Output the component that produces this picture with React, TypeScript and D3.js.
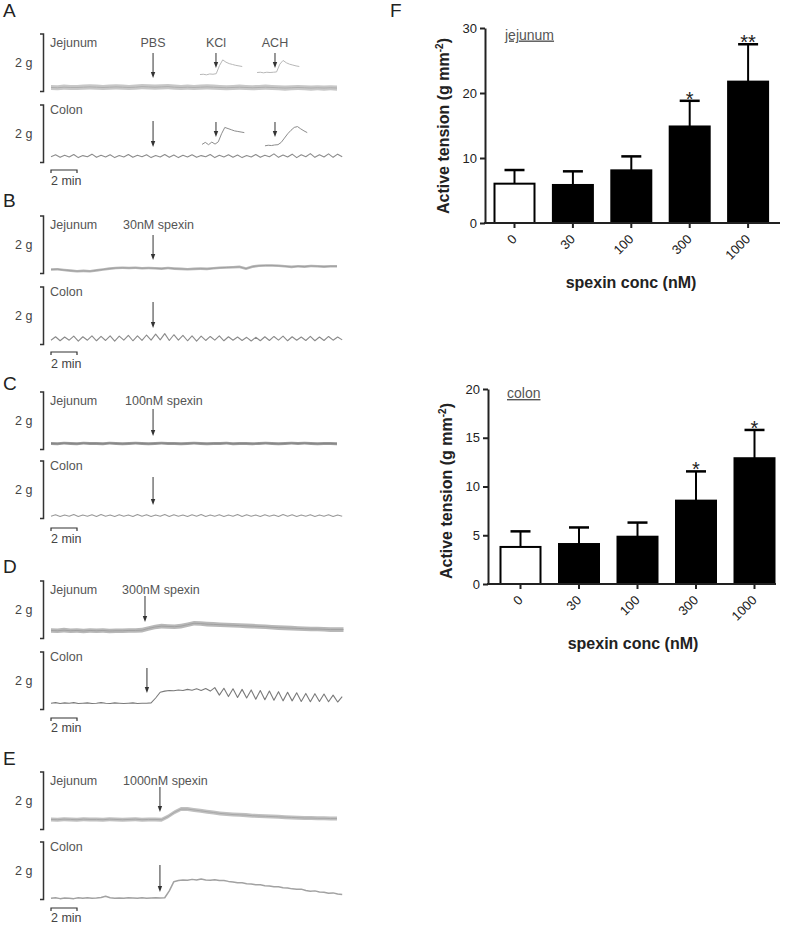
import * as d3 from 'd3';
import { useEffect, useRef } from 'react';

// panel F: active tension (g mm-2), mean and SEM per spexin concentration
const concLabels = ['0', '30', '100', '300', '1000'];
const jejunumMean = [6.05, 5.85, 8.1, 14.85, 21.75];
const jejunumSem = [2.1, 2.1, 2.15, 3.95, 5.75];
const jejunumStars = ['', '', '', '*', '**'];
const colonMean = [3.8, 4.1, 4.85, 8.55, 12.9];
const colonSem = [1.6, 1.7, 1.45, 3.0, 2.9];
const colonStars = ['', '', '', '*', '*'];

// panels A-E: tension traces in g. jejunum sampled every 0.5 min, colon every 0.35 min
const jejA = [0.14, 0.13, 0.15, 0.14, 0.14, 0.15, 0.16, 0.15, 0.14, 0.15, 0.16, 0.15, 0.14, 0.15, 0.17, 0.16, 0.15, 0.16, 0.17, 0.15, 0.14, 0.15, 0.14, 0.15, 0.16, 0.15, 0.14, 0.13, 0.14, 0.15, 0.14, 0.13, 0.14, 0.15, 0.14, 0.13, 0.12, 0.13, 0.14, 0.13, 0.12, 0.13, 0.12, 0.13, 0.12];
const jejB = [0.14, 0.15, 0.12, 0.1, 0.08, 0.09, 0.08, 0.11, 0.14, 0.17, 0.19, 0.2, 0.19, 0.2, 0.18, 0.19, 0.18, 0.17, 0.19, 0.17, 0.16, 0.15, 0.16, 0.17, 0.16, 0.18, 0.2, 0.21, 0.22, 0.23, 0.17, 0.24, 0.27, 0.28, 0.28, 0.27, 0.25, 0.23, 0.25, 0.24, 0.26, 0.25, 0.24, 0.25, 0.25];
const jejC = [0.21, 0.2, 0.22, 0.21, 0.2, 0.22, 0.21, 0.21, 0.2, 0.22, 0.21, 0.2, 0.21, 0.22, 0.21, 0.2, 0.21, 0.22, 0.21, 0.21, 0.2, 0.21, 0.22, 0.21, 0.2, 0.21, 0.21, 0.22, 0.2, 0.21, 0.21, 0.2, 0.21, 0.22, 0.21, 0.2, 0.21, 0.22, 0.21, 0.22, 0.21, 0.2, 0.21, 0.21, 0.2];
const jejD = [0.28, 0.27, 0.29, 0.27, 0.28, 0.26, 0.28, 0.27, 0.28, 0.26, 0.27, 0.27, 0.28, 0.28, 0.29, 0.35, 0.4, 0.43, 0.42, 0.41, 0.43, 0.48, 0.53, 0.52, 0.5, 0.49, 0.48, 0.47, 0.46, 0.45, 0.44, 0.43, 0.42, 0.41, 0.39, 0.38, 0.37, 0.36, 0.35, 0.34, 0.33, 0.33, 0.32, 0.31, 0.31, 0.31];
const jejE = [0.35, 0.34, 0.36, 0.35, 0.34, 0.36, 0.35, 0.35, 0.34, 0.36, 0.35, 0.34, 0.35, 0.36, 0.34, 0.35, 0.35, 0.34, 0.45, 0.6, 0.71, 0.71, 0.68, 0.65, 0.62, 0.59, 0.56, 0.54, 0.52, 0.51, 0.5, 0.48, 0.47, 0.46, 0.45, 0.44, 0.43, 0.42, 0.41, 0.4, 0.4, 0.39, 0.39, 0.38, 0.38];

const colA = [0.2, 0.27, 0.18, 0.25, 0.19, 0.28, 0.17, 0.24, 0.2, 0.29, 0.18, 0.25, 0.19, 0.27, 0.17, 0.24, 0.19, 0.28, 0.18, 0.25, 0.2, 0.27, 0.17, 0.24, 0.19, 0.28, 0.18, 0.26, 0.17, 0.25, 0.19, 0.27, 0.18, 0.24, 0.2, 0.28, 0.17, 0.25, 0.19, 0.27, 0.18, 0.26, 0.17, 0.24, 0.19, 0.28, 0.18, 0.25, 0.2, 0.3, 0.18, 0.26, 0.19, 0.29, 0.17, 0.27, 0.2, 0.31, 0.18, 0.27, 0.19, 0.3, 0.18, 0.29, 0.2];
const colB = [0.15, 0.27, 0.13, 0.26, 0.15, 0.29, 0.12, 0.27, 0.15, 0.3, 0.13, 0.28, 0.14, 0.3, 0.12, 0.29, 0.15, 0.32, 0.13, 0.3, 0.14, 0.33, 0.15, 0.36, 0.16, 0.38, 0.14, 0.34, 0.15, 0.32, 0.13, 0.3, 0.12, 0.29, 0.14, 0.28, 0.15, 0.3, 0.13, 0.27, 0.15, 0.26, 0.14, 0.25, 0.12, 0.25, 0.13, 0.27, 0.14, 0.28, 0.15, 0.29, 0.13, 0.27, 0.15, 0.26, 0.14, 0.28, 0.13, 0.26, 0.14, 0.28, 0.15, 0.26, 0.16];
const colC = [0.08, 0.13, 0.07, 0.12, 0.08, 0.14, 0.07, 0.12, 0.08, 0.13, 0.07, 0.14, 0.08, 0.12, 0.07, 0.13, 0.08, 0.12, 0.07, 0.14, 0.08, 0.13, 0.07, 0.12, 0.08, 0.14, 0.07, 0.13, 0.08, 0.12, 0.07, 0.13, 0.08, 0.14, 0.07, 0.12, 0.08, 0.13, 0.07, 0.12, 0.08, 0.14, 0.07, 0.13, 0.08, 0.12, 0.07, 0.13, 0.08, 0.12, 0.07, 0.14, 0.08, 0.13, 0.07, 0.12, 0.08, 0.13, 0.07, 0.12, 0.08, 0.13, 0.07, 0.12, 0.08];
const colD = [0.22, 0.24, 0.21, 0.23, 0.22, 0.24, 0.21, 0.22, 0.23, 0.21, 0.22, 0.24, 0.22, 0.21, 0.23, 0.22, 0.21, 0.22, 0.23, 0.21, 0.22, 0.22, 0.23, 0.4, 0.6, 0.64, 0.66, 0.65, 0.68, 0.66, 0.7, 0.67, 0.72, 0.66, 0.73, 0.64, 0.76, 0.5, 0.74, 0.45, 0.72, 0.42, 0.7, 0.4, 0.68, 0.36, 0.66, 0.34, 0.64, 0.32, 0.62, 0.3, 0.6, 0.3, 0.58, 0.28, 0.56, 0.27, 0.55, 0.28, 0.54, 0.27, 0.5, 0.26, 0.45];
const colE = [0.04, 0.06, 0.03, 0.05, 0.04, 0.03, 0.06, 0.04, 0.06, 0.04, 0.05, 0.07, 0.11, 0.06, 0.04, 0.05, 0.04, 0.06, 0.05, 0.04, 0.06, 0.04, 0.05, 0.06, 0.05, 0.06, 0.3, 0.62, 0.66, 0.68, 0.67, 0.7, 0.68, 0.71, 0.68, 0.67, 0.69, 0.66, 0.66, 0.63, 0.61, 0.58, 0.58, 0.55, 0.54, 0.51, 0.51, 0.48, 0.47, 0.44, 0.44, 0.41, 0.4, 0.37, 0.36, 0.36, 0.31, 0.29, 0.3, 0.26, 0.25, 0.22, 0.23, 0.19, 0.17];

const panelLetters = ['A', 'B', 'C', 'D', 'E'];
const stimNames = ['PBS', '30nM spexin', '100nM spexin', '300nM spexin', '1000nM spexin'];
const jejArrowMin = [7.85, 7.85, 7.85, 7.23, 8.38];
const colArrowMin = [7.85, 7.85, 7.85, 7.38, 8.38];
const jejSpread = [0.09, 0.045, 0.05, 0.08, 0.07];

// panel A insets (KCl, ACH), sampled every 0.25 min
const insetNames = ['KCl', 'ACH'];
const insetArrowMin = [12.69, 17.23];
const insetStartJej = [11.46, 15.85];
const insetStartCol = [11.62, 16.46];
const kclJej = [0.59, 0.6, 0.58, 0.61, 0.6, 0.62, 0.9, 1.1, 1.02, 0.97, 0.94, 0.91, 0.89, 0.87];
const achJej = [0.66, 0.67, 0.65, 0.67, 0.66, 0.67, 0.68, 0.95, 1.08, 1.0, 0.95, 0.92, 0.89, 0.87];
const kclCol = [0.63, 0.7, 0.62, 0.71, 0.64, 0.72, 1.0, 1.22, 1.18, 1.14, 1.1, 1.08, 1.06, 1.04];
const achCol = [0.58, 0.6, 0.59, 0.61, 0.62, 0.7, 0.85, 1.0, 1.12, 1.22, 1.25, 1.17, 1.1, 1.04];

const FONT = '"Liberation Sans", Arial, sans-serif';
const BR = 57.5; // height of the 2 g bracket

const rowLayout = [
  { letterY: 17, jejTop: 34, colTop: 105, barY: 170, minY: 185, stimX: null, jejArrow: [19, 44], colArrow: [16, 42] },
  { letterY: 207, jejTop: 216, colTop: 287, barY: 352, minY: 368, stimX: 123, jejArrow: [19, 44], colArrow: [15, 41] },
  { letterY: 390, jejTop: 392, colTop: 461, barY: 528, minY: 543, stimX: 125, jejArrow: [17, 44], colArrow: [16, 44] },
  { letterY: 573, jejTop: 581, colTop: 652, barY: 718, minY: 732, stimX: 122, jejArrow: [15, 41], colArrow: [16, 41] },
  { letterY: 765, jejTop: 772, colTop: 842, barY: 908, minY: 922, stimX: 123, jejArrow: [15, 40], colArrow: [23, 50] },
];
const jejColor = ['#c8c8c8', '#b8b8b8', '#9a9a9a', '#b8b8b8', '#c0c0c0'];
const colColor = ['#8c8c8c', '#8a8a8a', '#999999', '#7a7a7a', '#a2a2a2'];

const drawArrow = (g, x, y1, y2) => {
  g.append('line').attr('x1', x).attr('x2', x).attr('y1', y1).attr('y2', y2 - 5)
    .attr('stroke', '#333').attr('stroke-width', 1);
  g.append('path').attr('d', `M${x - 2.2},${y2 - 6}L${x + 2.2},${y2 - 6}L${x},${y2}Z`).attr('fill', '#333');
};

const drawBarChart = (svg, cfg) => {
  const { axisX, axisEnd, top, bottom, yMax, ticks, firstCenter, step, barW, means, sems, stars } = cfg;
  const g = svg.append('g').attr('font-family', FONT);
  const x = d3.scaleBand()
    .domain(concLabels)
    .range([firstCenter - step / 2, firstCenter - step / 2 + step * concLabels.length])
    .paddingInner(1 - barW / step)
    .paddingOuter((1 - barW / step) / 2);
  const y = d3.scaleLinear([0, yMax], [bottom, top]);

  // bars
  g.selectAll('rect.bar').data(concLabels).join('rect')
    .attr('x', (d) => x(d))
    .attr('width', x.bandwidth())
    .attr('y', (d, i) => y(means[i]))
    .attr('height', (d, i) => bottom - y(means[i]))
    .attr('fill', (d, i) => (i === 0 ? '#fff' : '#000'))
    .attr('stroke', '#000')
    .attr('stroke-width', 2);

  // error bars (upper SEM only)
  concLabels.forEach((c, i) => {
    const cx = x(c) + x.bandwidth() / 2;
    const yTop = y(means[i] + sems[i]);
    g.append('line').attr('x1', cx).attr('x2', cx).attr('y1', y(means[i])).attr('y2', yTop)
      .attr('stroke', '#000').attr('stroke-width', 2);
    g.append('line').attr('x1', cx - 10).attr('x2', cx + 10).attr('y1', yTop).attr('y2', yTop)
      .attr('stroke', '#000').attr('stroke-width', 2.5);
    if (stars[i]) {
      g.append('text').attr('x', cx).attr('y', yTop + 5).attr('text-anchor', 'middle')
        .attr('font-size', 20).attr('fill', '#222').text(stars[i]);
    }
  });

  // y axis
  g.append('g')
    .attr('transform', `translate(${axisX},0)`)
    .call(d3.axisLeft(y).tickValues(ticks).tickSize(5).tickSizeOuter(0).tickPadding(3))
    .call((a) => {
      a.select('.domain').attr('stroke', '#222').attr('stroke-width', 2);
      a.selectAll('.tick line').attr('stroke', '#222').attr('stroke-width', 2);
      a.selectAll('.tick text').attr('font-size', 13).attr('font-family', FONT).attr('fill', '#222');
    });

  // x axis
  g.append('line').attr('x1', axisX - 1).attr('x2', axisEnd).attr('y1', bottom).attr('y2', bottom)
    .attr('stroke', '#222').attr('stroke-width', 2);
  concLabels.forEach((c) => {
    const cx = x(c) + x.bandwidth() / 2;
    g.append('line').attr('x1', cx).attr('x2', cx).attr('y1', bottom).attr('y2', bottom + 5)
      .attr('stroke', '#222').attr('stroke-width', 2);
    g.append('text')
      .attr('transform', `translate(${cx + 3},${bottom + 17}) rotate(-45)`)
      .attr('text-anchor', 'end').attr('font-size', 13).attr('fill', '#222').text(c);
  });

  // titles
  const yt = g.append('text')
    .attr('transform', `translate(${cfg.yTitleX},${cfg.yTitleCY}) rotate(-90)`)
    .attr('text-anchor', 'middle').attr('font-size', 16).attr('font-weight', 'bold').attr('fill', '#222');
  yt.append('tspan').text('Active tension (g mm');
  yt.append('tspan').attr('dy', -6).attr('font-size', 10).text('-2');
  yt.append('tspan').attr('dy', 6).text(')');

  g.append('text').attr('x', cfg.xTitleCX).attr('y', cfg.xTitleY).attr('text-anchor', 'middle')
    .attr('font-size', 16).attr('font-weight', 'bold').attr('fill', '#222').text('spexin conc (nM)');

  g.append('text').attr('x', cfg.labelX).attr('y', cfg.labelY).attr('font-size', 14)
    .attr('fill', '#555').attr('text-decoration', 'underline').text(cfg.label);
};

const App = () => {
  const ref = useRef(null);

  useEffect(() => {
    const width = 787;
    const height = 926;
    ref.current.innerHTML = '';
    const svg = d3.select(ref.current)
      .append('svg')
      .attr('width', width)
      .attr('height', height)
      .attr('viewBox', [0, 0, width, height])
      .style('position', 'absolute')
      .style('left', '0px')
      .style('top', '0px')
      .style('background', '#fff');

    const tx = d3.scaleLinear([0, 22.5], [51, 51 + 22.5 * 13]);
    const jejTraces = [jejA, jejB, jejC, jejD, jejE];
    const colTraces = [colA, colB, colC, colD, colE];

    const left = svg.append('g').attr('font-family', FONT);

    rowLayout.forEach((r, k) => {
      const yJ = d3.scaleLinear([0, 2], [r.jejTop + BR, r.jejTop]);
      const yC = d3.scaleLinear([0, 2], [r.colTop + BR, r.colTop]);

      left.append('text').attr('x', 3).attr('y', r.letterY).attr('font-size', 19).attr('fill', '#222')
        .text(panelLetters[k]);

      // brackets + labels
      [r.jejTop, r.colTop].forEach((top) => {
        left.append('path').attr('d', `M40,${top}H43.5V${top + BR}H40`)
          .attr('fill', 'none').attr('stroke', '#333').attr('stroke-width', 1.5);
        left.append('text').attr('x', 15).attr('y', top + BR / 2 + 4).attr('font-size', 12.5)
          .attr('fill', '#444').text('2 g');
      });
      left.append('text').attr('x', 50).attr('y', r.jejTop + 13).attr('font-size', 12.5).attr('fill', '#555').text('Jejunum');
      left.append('text').attr('x', 50).attr('y', r.colTop + 9).attr('font-size', 12.5).attr('fill', '#555').text('Colon');

      // stimulus label
      const stimText = left.append('text').attr('y', r.jejTop + 13).attr('font-size', 12.5).attr('fill', '#555').text(stimNames[k]);
      if (r.stimX === null) stimText.attr('x', tx(jejArrowMin[k])).attr('text-anchor', 'middle');
      else stimText.attr('x', r.stimX);

      // jejunum trace: noisy band + centre line
      const jd = jejTraces[k];
      const sp = jejSpread[k];
      left.append('path')
        .attr('d', d3.area().x((d, i) => tx(i * 0.5)).y0((d) => yJ(d - sp)).y1((d) => yJ(d + sp))(jd))
        .attr('fill', jejColor[k]);
      left.append('path')
        .attr('d', d3.line().x((d, i) => tx(i * 0.5)).y((d) => yJ(d))(jd))
        .attr('fill', 'none').attr('stroke', d3.color(jejColor[k]).darker(0.5)).attr('stroke-width', 0.8);

      // colon trace
      left.append('path')
        .attr('d', d3.line().x((d, i) => tx(i * 0.35)).y((d) => yC(d))(colTraces[k]))
        .attr('fill', 'none').attr('stroke', colColor[k]).attr('stroke-width', k === 4 ? 1.5 : 1.1)
        .attr('stroke-linejoin', 'round');

      drawArrow(left, tx(jejArrowMin[k]), r.jejTop + r.jejArrow[0], r.jejTop + r.jejArrow[1]);
      drawArrow(left, tx(colArrowMin[k]), r.colTop + r.colArrow[0], r.colTop + r.colArrow[1]);

      // 2 min scale bar
      const x0 = tx(0);
      const x1 = tx(2);
      left.append('path').attr('d', `M${x0},${r.barY + 3}V${r.barY}H${x1}V${r.barY + 3}`)
        .attr('fill', 'none').attr('stroke', '#333').attr('stroke-width', 1.2);
      left.append('text').attr('x', x0).attr('y', r.minY).attr('font-size', 12.5).attr('fill', '#444').text('2 min');

      if (k === 0) {
        const insJ = [kclJej, achJej];
        const insC = [kclCol, achCol];
        insetNames.forEach((name, j) => {
          const ax = tx(insetArrowMin[j]);
          left.append('text').attr('x', ax).attr('y', r.jejTop + 13).attr('text-anchor', 'middle')
            .attr('font-size', 12.5).attr('fill', '#555').text(name);
          drawArrow(left, ax, r.jejTop + 19, r.jejTop + 34);
          drawArrow(left, ax, r.colTop + 17, r.colTop + 32);
          left.append('path')
            .attr('d', d3.line().x((d, i) => tx(insetStartJej[j] + i * 0.25)).y((d) => yJ(d))(insJ[j]))
            .attr('fill', 'none').attr('stroke', '#b8b8b8').attr('stroke-width', 1);
          left.append('path')
            .attr('d', d3.line().x((d, i) => tx(insetStartCol[j] + i * 0.25)).y((d) => yC(d))(insC[j]))
            .attr('fill', 'none').attr('stroke', '#8c8c8c').attr('stroke-width', 1);
        });
      }
    });

    svg.append('text').attr('x', 390).attr('y', 17).attr('font-size', 19).attr('fill', '#222')
      .attr('font-family', FONT).text('F');

    drawBarChart(svg, {
      axisX: 485, axisEnd: 780, top: 28, bottom: 223, yMax: 30, ticks: [0, 10, 20, 30],
      firstCenter: 514.5, step: 58.4, barW: 40,
      means: jejunumMean, sems: jejunumSem, stars: jejunumStars,
      yTitleX: 449, yTitleCY: 126, xTitleCX: 631, xTitleY: 288,
      label: 'jejunum', labelX: 505, labelY: 39.5,
    });
    drawBarChart(svg, {
      axisX: 488, axisEnd: 776, top: 389, bottom: 584, yMax: 20, ticks: [0, 5, 10, 15, 20],
      firstCenter: 520.5, step: 58.5, barW: 40,
      means: colonMean, sems: colonSem, stars: colonStars,
      yTitleX: 452, yTitleCY: 491, xTitleCX: 633, xTitleY: 649,
      label: 'colon', labelX: 507, labelY: 398,
    });
  }, []);

  return <div ref={ref} />;
};

export default App;
